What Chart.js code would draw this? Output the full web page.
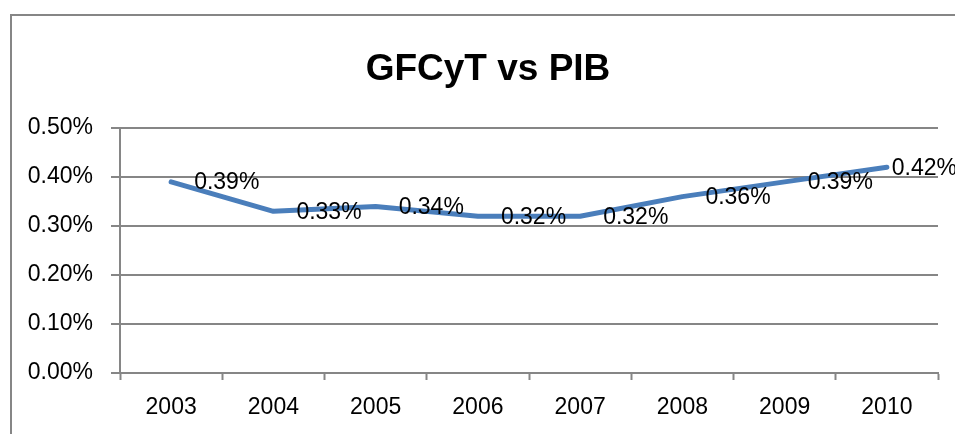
<!DOCTYPE html>
<html>
<head>
<meta charset="utf-8">
<title>GFCyT vs PIB</title>
<script src="https://cdn.jsdelivr.net/npm/chart.js@4/dist/chart.umd.min.js"></script>
<style>
  html, body { margin: 0; padding: 0; background: #fff; overflow: hidden; }
  canvas { display: block; }
</style>
</head>
<body>
<canvas id="chart" width="955" height="434"></canvas>
<script>
// data (percent of PIB)
var years = ['2003', '2004', '2005', '2006', '2007', '2008', '2009', '2010'];
var gfcyt = [0.39, 0.33, 0.34, 0.32, 0.32, 0.36, 0.39, 0.42];
var yTicks = [0, 0.1, 0.2, 0.3, 0.4, 0.5];

var gray = '#868686';
var fontName = '"Liberation Sans", Arial, sans-serif';

function pct(v) {
    return Number(v).toFixed(2) + '%';
}

// outer frame of the chart object (it runs past the right and bottom edges)
var framePlugin = {
    id: 'frame',
    afterLayout: function(chart) {
        // centre the title on the whole frame, not only on the plot box
        if (chart.titleBlock) {
            chart.titleBlock.left = 11;
            chart.titleBlock.right = 965;
        }
    },
    beforeDraw: function(chart) {
        var ctx = chart.ctx;
        ctx.save();
        ctx.fillStyle = '#fff';
        ctx.fillRect(0, 0, chart.width, chart.height);
        ctx.strokeStyle = gray;
        ctx.lineWidth = 2;
        ctx.strokeRect(11, 15, chart.width + 20, chart.height + 20);
        ctx.restore();
    }
};

// value labels to the right of each point
var labelPlugin = {
    id: 'valueLabels',
    afterDatasetsDraw: function(chart) {
        var ctx = chart.ctx;
        var meta = chart.getDatasetMeta(0);
        var data = chart.data.datasets[0].data;
        ctx.save();
        ctx.font = '23px ' + fontName;
        ctx.fillStyle = '#000';
        ctx.textAlign = 'left';
        ctx.textBaseline = 'middle';
        for (var i = 0; i < meta.data.length; i++) {
            var p = meta.data[i];
            var txt = pct(data[i]);
            var w = ctx.measureText(txt).width;
            var x = Math.min(p.x + 23, chart.width - w + 2);
            ctx.fillText(txt, x, p.y + 1);
        }
        ctx.restore();
    }
};

new Chart(document.getElementById('chart'), {
    type: 'line',
    data: {
        labels: years,
        datasets: [{
            label: 'GFCyT vs PIB',
            data: gfcyt,
            borderColor: '#4A7EBB',
            backgroundColor: '#4A7EBB',
            borderWidth: 5,
            borderCapStyle: 'round',
            borderJoinStyle: 'round',
            pointRadius: 0,
            pointHoverRadius: 0,
            tension: 0,
            fill: false
        }]
    },
    options: {
        responsive: false,
        animation: false,
        devicePixelRatio: 1,
        layout: { padding: { left: 0, right: 17, top: 0, bottom: 0 } },
        plugins: {
            legend: { display: false },
            tooltip: { enabled: false },
            title: {
                display: true,
                text: 'GFCyT vs PIB',
                color: '#000',
                font: { family: fontName, size: 37, weight: 'bold', lineHeight: 1 },
                padding: { top: 51, bottom: 40 }
            }
        },
        scales: {
            x: {
                offset: true,
                grid: {
                    offset: true,
                    drawOnChartArea: false,
                    drawTicks: true,
                    tickLength: 7,
                    tickColor: gray,
                    tickWidth: 2
                },
                border: { display: true, color: gray, width: 2 },
                ticks: {
                    color: '#000',
                    padding: 14,
                    maxRotation: 0,
                    font: { family: fontName, size: 23 }
                },
                afterFit: function(scale) { scale.height = 61; }
            },
            y: {
                min: 0,
                max: 0.5,
                afterBuildTicks: function(scale) {
                    scale.ticks = yTicks.map(function(v) { return { value: v }; });
                },
                grid: {
                    color: gray,
                    lineWidth: 2,
                    tickLength: 9,
                    tickColor: gray
                },
                border: { display: true, color: gray, width: 2 },
                ticks: {
                    color: '#000',
                    padding: 18,
                    font: { family: fontName, size: 23 },
                    callback: function(v) { return pct(v); }
                },
                afterFit: function(scale) { scale.width = 120; }
            }
        }
    },
    plugins: [framePlugin, labelPlugin]
});
</script>
</body>
</html>
